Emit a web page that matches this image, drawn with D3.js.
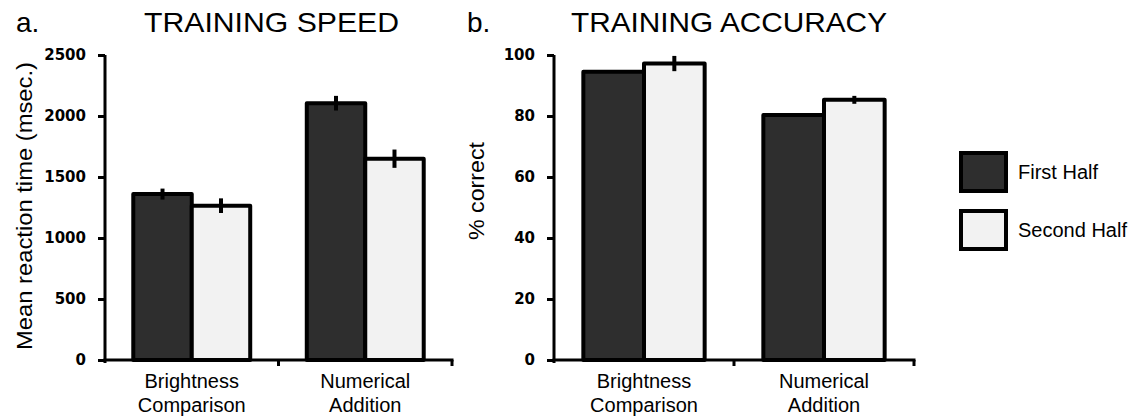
<!DOCTYPE html>
<html><head><meta charset="utf-8">
<script src="https://cdn.jsdelivr.net/npm/d3@7"></script>
<style>body{margin:0;background:#fff}svg{display:block}text{font-family:"Liberation Sans",Arial,sans-serif;fill:#000}</style>
</head><body><svg id="c" width="1142" height="420"></svg>
<script>
const categories = ["Brightness Comparison", "Numerical Addition"];
const series = ["First Half", "Second Half"];
const speedFirst = [1360, 2105];
const speedSecond = [1265, 1650];
const speedFirstErr = [45, 60];
const speedSecondErr = [60, 75];
const accFirst = [94.5, 80.3];
const accSecond = [97.2, 85.3];
const accFirstErr = [0.4, 0.2];
const accSecondErr = [2.5, 1.3];
const speedTicks = [0, 500, 1000, 1500, 2000, 2500];
const accTicks = [0, 20, 40, 60, 80, 100];
const colors = {"First Half": "#2e2e2e", "Second Half": "#f2f2f2"};

const svg = d3.select("#c");
const yTop = 55, yBot = 360;

function panel(opt) {
  const g = svg.append("g");
  const x = d3.scaleBand().domain(categories).range([opt.x0, opt.x1]).padding(0);
  const x1 = d3.scaleBand().domain(series)
    .range([x.bandwidth() * 0.163, x.bandwidth() * 0.837]).padding(0);
  const y = d3.scaleLinear().domain([0, opt.max]).range([yBot, yTop]);

  const rows = categories.map((c, i) => ({
    c, vals: [
      {s: series[0], v: opt.first[i], e: opt.firstErr[i]},
      {s: series[1], v: opt.second[i], e: opt.secondErr[i]}
    ]}));

  const grp = g.selectAll("g.grp").data(rows).join("g")
    .attr("transform", d => `translate(${x(d.c)},0)`);
  grp.selectAll("rect").data(d => d.vals).join("rect")
    .attr("x", d => x1(d.s)).attr("width", x1.bandwidth())
    .attr("y", d => y(d.v)).attr("height", d => yBot - y(d.v))
    .attr("fill", d => colors[d.s]).attr("stroke", "#000").attr("stroke-width", 4)
    .attr("stroke-linejoin", "round");
  grp.selectAll("line.err").data(d => d.vals).join("line").attr("class", "err")
    .attr("x1", d => x1(d.s) + x1.bandwidth() / 2).attr("x2", d => x1(d.s) + x1.bandwidth() / 2)
    .attr("y1", d => y(d.v + d.e)).attr("y2", d => y(d.v - d.e))
    .attr("stroke", "#000").attr("stroke-width", 4);

  // y axis
  const ya = g.append("g").attr("transform", `translate(${opt.x0},0)`)
    .call(d3.axisLeft(y).tickValues(opt.ticks).tickFormat(d3.format("d"))
      .tickSize(7).tickPadding(12).tickSizeOuter(0));
  ya.select(".domain").attr("stroke-width", 3).attr("d", `M0,${yTop}V${yBot + 3}`);
  ya.selectAll(".tick line").attr("stroke-width", 3);
  ya.selectAll(".tick text").style("font-family", "'DejaVu Sans',sans-serif")
    .style("font-weight", "bold").style("font-size", "15px");

  // x axis
  const xa = g.append("g");
  xa.append("line").attr("x1", opt.x0 - 1.5).attr("x2", opt.x1 + 1.5)
    .attr("y1", yBot).attr("y2", yBot).attr("stroke", "#000").attr("stroke-width", 3);
  const bounds = categories.map(c => x(c)).concat([x.range()[1]]);
  xa.selectAll("line.tk").data(bounds.slice(1)).join("line").attr("class", "tk")
    .attr("x1", d => d).attr("x2", d => d).attr("y1", yBot).attr("y2", yBot + 6)
    .attr("stroke", "#000").attr("stroke-width", 3);
  const lab = xa.selectAll("text").data(categories).join("text")
    .attr("x", d => x(d) + x.bandwidth() / 2).attr("text-anchor", "middle")
    .style("font-size", "20px");
  lab.append("tspan").attr("x", d => x(d) + x.bandwidth() / 2).attr("y", 388).text(d => d.split(" ")[0]);
  lab.append("tspan").attr("x", d => x(d) + x.bandwidth() / 2).attr("y", 412).text(d => d.split(" ")[1]);

  // titles
  g.append("text").attr("x", opt.letterX).attr("y", 32).style("font-size", "28px").text(opt.letter);
  g.append("text").attr("x", opt.titleX).attr("y", 32).style("font-size", "28px")
    .attr("textLength", opt.titleW).attr("lengthAdjust", "spacingAndGlyphs").text(opt.title);
  // y label
  g.append("text").attr("transform", `translate(${opt.ylabX},${opt.ylabY}) rotate(-90)`)
    .attr("text-anchor", "middle").style("font-size", opt.ylabSize + "px")
    .attr("textLength", opt.ylabW).attr("lengthAdjust", "spacingAndGlyphs").text(opt.ylab);
}

panel({x0: 105, x1: 452, max: 2500, ticks: speedTicks,
  first: speedFirst, second: speedSecond, firstErr: speedFirstErr, secondErr: speedSecondErr,
  letter: "a.", letterX: 16, title: "TRAINING SPEED", titleX: 144, titleW: 255,
  ylab: "Mean reaction time (msec.)", ylabX: 32, ylabY: 206, ylabSize: 22, ylabW: 288});
panel({x0: 554, x1: 914, max: 100, ticks: accTicks,
  first: accFirst, second: accSecond, firstErr: accFirstErr, secondErr: accSecondErr,
  letter: "b.", letterX: 467, title: "TRAINING ACCURACY", titleX: 571, titleW: 316,
  ylab: "% correct", ylabX: 484, ylabY: 191, ylabSize: 22, ylabW: 98});

// legend
const lg = svg.append("g").attr("transform", "translate(961,153)");
const li = lg.selectAll("g").data(series).join("g").attr("transform", (d, i) => `translate(0,${i * 58})`);
li.append("rect").attr("width", 45).attr("height", 38).attr("fill", d => colors[d])
  .attr("stroke", "#000").attr("stroke-width", 4);
li.append("text").attr("x", 57).attr("y", 19).attr("dy", "0.35em").style("font-size", "20px").text(d => d);
</script></body></html>
